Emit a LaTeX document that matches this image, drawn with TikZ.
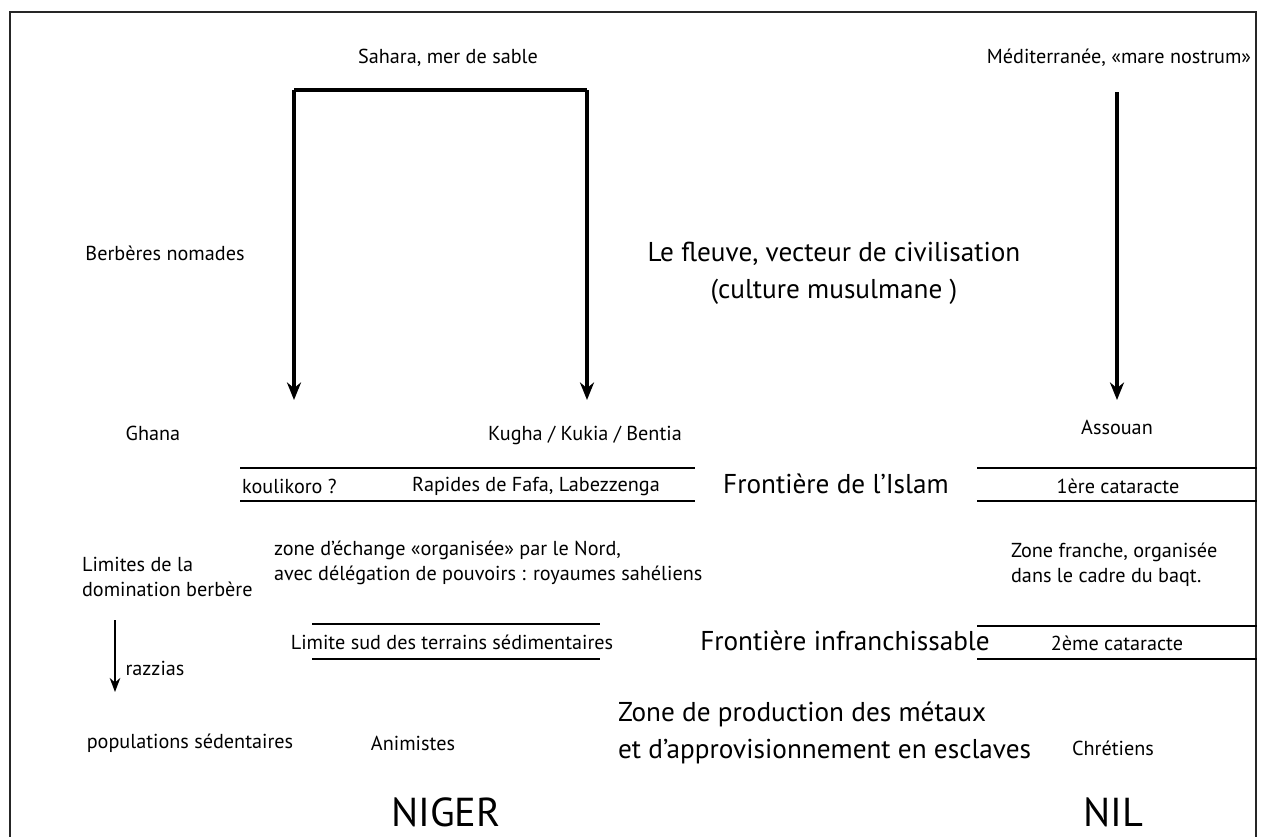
\documentclass[tikz,border=0pt]{standalone}
\usepackage{fontspec}
\setmainfont{PT Sans}
\usepackage{tikz}
\usetikzlibrary{arrows.meta}

\tikzset{
  lbl/.style={font=\fontsize{11.5}{14}\selectfont, inner sep=1pt},
  big/.style={font=\fontsize{15.5}{21}\selectfont, inner sep=1pt},
  huge/.style={font=\fontsize{23}{26}\selectfont, inner sep=0pt},
  river/.style={line width=2.8pt, -{Stealth[length=10pt,width=8pt]}},
  limit/.style={line width=1.5pt},
}

\begin{document}
\begin{tikzpicture}[x=0.02cm, y=-0.02cm]
    \useasboundingbox (0,0) rectangle (1262,836);
    % cadre
    \draw[line width=1.6pt, black!85] (10,840) -- (10,12) -- (1256,12) -- (1256,840);

    % en-tetes
    \node[lbl] (sahara) at (448,58) {Sahara, mer de sable};
    \node[lbl] (medit) at (1119,58) {Méditerranée, «mare nostrum»};

    % fleuves
    \coordinate (brL) at (294,90);
    \coordinate (brR) at (587,90);
    \coordinate (brLend) at (294,400);
    \coordinate (brRend) at (587,400);
    \coordinate (nilTop) at (1117,92);
    \coordinate (nilEnd) at (1117,400);
    \draw[line width=2.8pt] (brL) -- (brR);
    \draw[river] (brL) -- (brLend);
    \draw[river] (brR) -- (brRend);
    \draw[river] (nilTop) -- (nilEnd);

    \node[lbl] (berberes) at (165,253) {Berbères nomades};
    \node[big, align=center] (fleuve) at (834,273) {Le fleuve, vecteur de civilisation\\(culture musulmane )};

    \node[lbl] (ghana) at (153,433) {Ghana};
    \node[lbl] (kugha) at (585,435) {Kugha / Kukia / Bentia};
    \node[lbl] (assouan) at (1117,427) {Assouan};

    % frontiere de l'Islam
    \coordinate (fA1) at (240,468);  \coordinate (fA2) at (695,468);
    \coordinate (fB1) at (240,501);  \coordinate (fB2) at (695,501);
    \coordinate (fC1) at (977,468);  \coordinate (fC2) at (1257,468);
    \coordinate (fD1) at (977,501);  \coordinate (fD2) at (1257,501);
    \draw[limit] (fA1) -- (fA2);
    \draw[limit] (fB1) -- (fB2);
    \draw[limit] (fC1) -- (fC2);
    \draw[limit] (fD1) -- (fD2);
    \node[lbl, anchor=west] (koulikoro) at (240,486) {koulikoro ?};
    \node[lbl] (rapides) at (536,486) {Rapides de Fafa, Labezzenga};
    \node[big] (islam) at (836,484) {Frontière de l'Islam};
    \node[lbl] (cat1) at (1118,486) {1ère cataracte};

    \node[lbl, anchor=west, align=left] (echange) at (272,563) {zone d'échange «organisée» par le Nord,\\avec délégation de pouvoirs : royaumes sahéliens};
    \node[lbl, anchor=west, align=left] (limites) at (80,577) {Limites de la\\domination berbère};
    \node[lbl, anchor=west, align=left] (franche) at (1009,565) {Zone franche, organisée\\dans le cadre du baqt.};

    % frontiere infranchissable
    \coordinate (gA1) at (312,624);  \coordinate (gA2) at (600,624);
    \coordinate (gB1) at (312,659);  \coordinate (gB2) at (600,659);
    \coordinate (gC1) at (977,626);  \coordinate (gC2) at (1257,626);
    \coordinate (gD1) at (977,659);  \coordinate (gD2) at (1257,659);
    \draw[limit] (gA1) -- (gA2);
    \draw[limit] (gB1) -- (gB2);
    \draw[limit] (gC1) -- (gC2);
    \draw[limit] (gD1) -- (gD2);
    \node[lbl] (sud) at (452,642) {Limite sud des terrains sédimentaires};
    \node[big] (infra) at (845,641) {Frontière infranchissable};
    \node[lbl] (cat2) at (1117,643) {2ème cataracte};

    \coordinate (razTop) at (115,620);
    \coordinate (razEnd) at (115,692);
    \draw[line width=1.2pt, -{Stealth[length=8pt,width=6pt]}] (razTop) -- (razEnd);
    \node[lbl] (razzias) at (155,668) {razzias};

    \node[big, anchor=west, align=left] (metaux) at (616,733) {Zone de production des métaux\\et d'approvisionnement en esclaves};
    \node[lbl] (popul) at (190,743) {populations sédentaires};
    \node[lbl] (animistes) at (413,743) {Animistes};
    \node[lbl] (chretiens) at (1113,748) {Chrétiens};

    \node[huge] (niger) at (446,812) {NIGER};
    \node[huge] (nil) at (1113,812) {NIL};
\end{tikzpicture}
\end{document}
